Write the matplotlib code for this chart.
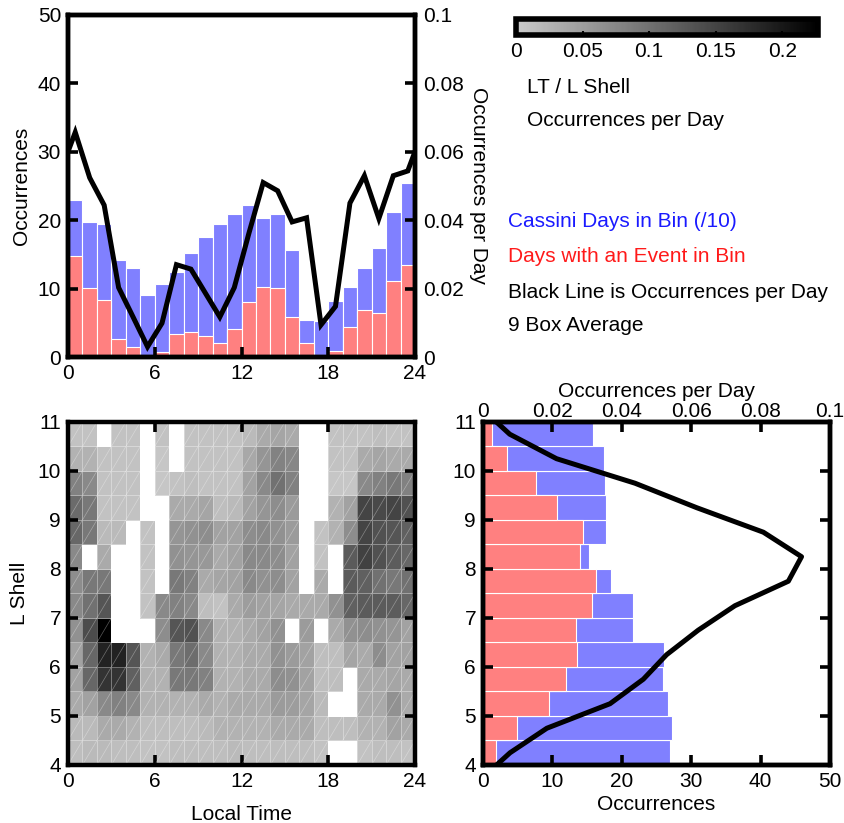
import numpy as np
import matplotlib
matplotlib.use("Agg")
import matplotlib.pyplot as plt
from matplotlib.colors import LinearSegmentedColormap
from matplotlib.collections import LineCollection

plt.rcParams['font.family'] = ['Liberation Sans', 'DejaVu Sans']
plt.rcParams['font.size'] = 15

nan = np.nan

# --- top panel: local time histogram (1 h bins) ---
lt_edges = np.arange(0, 25)
cassini_lt = [22.9, 19.8, 19.4, 14.2, 13.0, 9.1, 10.7, 12.5, 15.2, 17.6, 19.4, 20.9,
              22.2, 20.3, 20.9, 15.7, 5.4, 5.3, 8.2, 10.2, 13.0, 16.0, 21.2, 25.4]
events_lt = [14.8, 10.1, 8.4, 2.7, 1.4, 0.1, 0.7, 3.3, 3.7, 3.1, 2.1, 4.1,
             8.1, 10.3, 10.1, 5.9, 2.1, 0.3, 0.9, 4.4, 6.9, 6.4, 11.1, 13.4]
# 9 box average, bin centres, wrapped at both ends
rate_lt_x = [-0.5] + [h + 0.5 for h in range(24)] + [24.5]
rate_lt = [0.0544,
           0.0657, 0.0524, 0.0444, 0.0203, 0.0117, 0.0030, 0.0099, 0.0270,
           0.0257, 0.0187, 0.0117, 0.0203, 0.0360, 0.0510, 0.0486, 0.0395,
           0.0407, 0.0094, 0.0148, 0.0450, 0.0530, 0.0405, 0.0530, 0.0544,
           0.0657]

# --- bottom right: L shell histogram (0.5 bins) ---
l_edges = np.arange(4, 11.01, 0.5)
cassini_l = [27.0, 27.2, 26.6, 25.9, 26.1, 21.6, 21.6, 18.4, 15.3, 17.7, 17.7, 17.6, 17.4, 15.9]
events_l = [1.8, 4.9, 9.5, 11.9, 13.6, 13.4, 15.7, 16.3, 14.0, 14.4, 10.7, 7.7, 3.5, 1.3]
rate_l_y = [3.75, 4.25, 4.75, 5.25, 5.75, 6.25, 6.75, 7.25, 7.75, 8.25, 8.75, 9.25, 9.75, 10.25, 10.75, 11.25]
rate_l = [0.0, 0.0078, 0.0184, 0.0366, 0.0462, 0.0529, 0.0620, 0.0726, 0.0880,
          0.0918, 0.0808, 0.0616, 0.0438, 0.0212, 0.0077, 0.0]

# --- LT / L shell occurrences per day, rows from L=11 (top) down to L=4 ---
rate_grid_top_down = [
    [.009, .009, nan, .009, .009, nan, .009, nan, .009, .009, .009, .009, .018, .036, .041, .036, nan, nan, .009, .009, .009, .014, .009, .009],
    [.027, .027, .009, .009, .009, nan, .005, nan, .009, .009, .009, .009, .038, .060, .080, .075, nan, nan, .009, .009, .036, .041, .036, .036],
    [.082, .073, .009, .009, .009, nan, .005, .009, .014, .009, .009, .009, .045, .073, .100, .082, nan, nan, .005, .005, .073, .082, .092, .082],
    [.107, .092, .009, .009, .009, nan, nan, .036, .036, .041, .014, .018, .045, .059, .068, .053, nan, nan, .027, .045, .150, .145, .150, .136],
    [.111, .092, .018, .018, nan, .009, nan, .059, .064, .068, .045, .045, .068, .073, .064, .053, nan, .009, .027, .068, .150, .136, .131, .118],
    [.073, nan, .036, nan, nan, .009, nan, .064, .059, .055, .036, .045, .073, .073, .068, .045, nan, .009, nan, .125, .154, .136, .123, .111],
    [.068, .092, .092, nan, nan, .009, nan, .092, .082, .036, .041, .045, .073, .064, .068, .045, nan, .036, nan, .125, .118, .100, .092, .100],
    [.073, .100, .131, nan, nan, .009, .073, .082, .073, .014, .009, .036, .050, .045, .041, .036, .036, .036, .064, .118, .125, .125, .123, .111],
    [.064, .141, .227, nan, nan, nan, .068, .131, .136, .073, .027, .027, .036, .045, .064, nan, .053, nan, .036, .064, .068, .064, .059, .045],
    [.045, .111, .188, .188, .131, .027, .036, .092, .104, .073, .027, .027, .036, .036, .064, .053, .045, .014, .014, .041, .036, .068, .045, .045],
    [.045, .111, .169, .169, .118, .027, .027, .092, .092, .082, .027, .027, .036, .036, .068, .064, .045, .014, .014, nan, .036, .036, .041, .036],
    [.036, .045, .073, .082, .073, .027, .027, .027, .027, .036, .027, .036, .036, .036, .053, .050, .041, .018, nan, nan, .036, .036, .064, .036],
    [.018, .018, .036, .036, .027, .014, .014, .014, .014, .018, .027, .027, .027, .027, .036, .036, .036, .014, .014, .014, .027, .027, .045, .036],
    [.014, .018, .018, .014, .014, .009, .009, .014, .014, .014, .014, .018, .014, .014, .014, .014, .014, .009, nan, nan, .009, .014, .014, .009],
]
rate_vmax = 0.227

BLUE = '#8080ff'
RED = '#ff8080'
SPINE_W = 3.2
LINE_W = 3.6

cmap = LinearSegmentedColormap.from_list('grays', [(0.79, 0.79, 0.79), (0, 0, 0)])
cmap.set_bad('white')


def style_axes(ax):
    for s in ax.spines.values():
        s.set_linewidth(SPINE_W)
    ax.tick_params(which='both', direction='in', length=7, width=2.6, labelsize=15)


fig = plt.figure(figsize=(8.44, 8.23), dpi=100)

# ---------------- top left: LT histogram ----------------
ax1 = fig.add_axes([0.0806, 0.5662, 0.4111, 0.4156])
ax1.bar(lt_edges[:-1], cassini_lt, width=1, align='edge', color=BLUE, edgecolor='white', linewidth=0.8)
ax1.bar(lt_edges[:-1], events_lt, width=1, align='edge', color=RED, edgecolor='white', linewidth=0.8)
ax1.set_xlim(0, 24)
ax1.set_ylim(0, 50)
ax1.set_xticks([0, 6, 12, 18, 24])
ax1.set_yticks(range(0, 51, 10))
ax1.set_ylabel('Occurrences', labelpad=5)
style_axes(ax1)
ax1.tick_params(axis='x', pad=5)
ax1.tick_params(axis='y', pad=5)

ax1r = ax1.twinx()
ax1r.plot(rate_lt_x, rate_lt, color='black', linewidth=LINE_W, solid_joinstyle='miter')
ax1r.set_ylim(0, 0.1)
ax1r.set_yticks([0, 0.02, 0.04, 0.06, 0.08, 0.1])
ax1r.set_yticklabels(['0', '0.02', '0.04', '0.06', '0.08', '0.1'])
ax1r.set_ylabel('Occurrences per Day', rotation=270, labelpad=17)
style_axes(ax1r)
ax1r.tick_params(axis='y', pad=6)

# ---------------- bottom left: LT / L grid ----------------
ax2 = fig.add_axes([0.0806, 0.0705, 0.4111, 0.4168])
grid = np.ma.masked_invalid(np.flipud(np.array(rate_grid_top_down)))
mesh = ax2.pcolormesh(lt_edges, l_edges, grid, cmap=cmap, vmin=0, vmax=rate_vmax,
                      edgecolors=(1, 1, 1, 0.35), linewidth=0.5)
# faint triangle diagonals of the mesh cells
segs = []
for j in range(len(l_edges) - 1):
    for i in range(24):
        if not np.isnan(grid.filled(np.nan)[j, i]):
            segs.append([(lt_edges[i], l_edges[j]), (lt_edges[i + 1], l_edges[j + 1])])
ax2.add_collection(LineCollection(segs, colors=[(1, 1, 1, 0.35)], linewidths=0.5))
ax2.set_xlim(0, 24)
ax2.set_ylim(4, 11)
ax2.set_xticks([0, 6, 12, 18, 24])
ax2.set_yticks(range(4, 12))
ax2.set_xlabel('Local Time', labelpad=10)
ax2.set_ylabel('L Shell', labelpad=6)
style_axes(ax2)
ax2.tick_params(top=True, right=True, pad=5)

# ---------------- bottom right: L histogram ----------------
ax3 = fig.add_axes([0.5723, 0.0705, 0.4111, 0.4168])
ax3.barh(l_edges[:-1], cassini_l, height=0.5, align='edge', color=BLUE, edgecolor='white', linewidth=0.8)
ax3.barh(l_edges[:-1], events_l, height=0.5, align='edge', color=RED, edgecolor='white', linewidth=0.8)
ax3.set_xlim(0, 50)
ax3.set_ylim(4, 11)
ax3.set_xticks(range(0, 51, 10))
ax3.set_yticks(range(4, 12))
ax3.set_xlabel('Occurrences', labelpad=3)
style_axes(ax3)
ax3.tick_params(right=True, pad=5)

ax3t = ax3.twiny()
ax3t.plot(rate_l, rate_l_y, color='black', linewidth=LINE_W)
ax3t.set_xlim(0, 0.1)
ax3t.set_xticks([0, 0.02, 0.04, 0.06, 0.08, 0.1])
ax3t.set_xticklabels(['0', '0.02', '0.04', '0.06', '0.08', '0.1'])
ax3t.set_xlabel('Occurrences per Day', labelpad=3)
style_axes(ax3t)
ax3t.tick_params(pad=1)

# ---------------- colour bar and key ----------------
cax = fig.add_axes([0.6115, 0.9575, 0.3578, 0.0195])
cb = fig.colorbar(mesh, cax=cax, orientation='horizontal')
cb.set_ticks([0, 0.05, 0.1, 0.15, 0.2])
cb.set_ticklabels(['0', '0.05', '0.1', '0.15', '0.2'])
cb.outline.set_linewidth(4)
cax.tick_params(direction='in', length=3, width=1.5, labelsize=15, pad=5)

fig.text(0.6245, 0.894, 'LT / L Shell', ha='left', va='center')
fig.text(0.6245, 0.854, 'Occurrences per Day', ha='left', va='center')
fig.text(0.602, 0.731, 'Cassini Days in Bin (/10)', color='#1a1aff', ha='left', va='center')
fig.text(0.602, 0.688, 'Days with an Event in Bin', color='#ff1a1a', ha='left', va='center')
fig.text(0.602, 0.645, 'Black Line is Occurrences per Day', color='black', ha='left', va='center')
fig.text(0.602, 0.604, '9 Box Average', color='black', ha='left', va='center')

fig.savefig('out.png', dpi=100)
